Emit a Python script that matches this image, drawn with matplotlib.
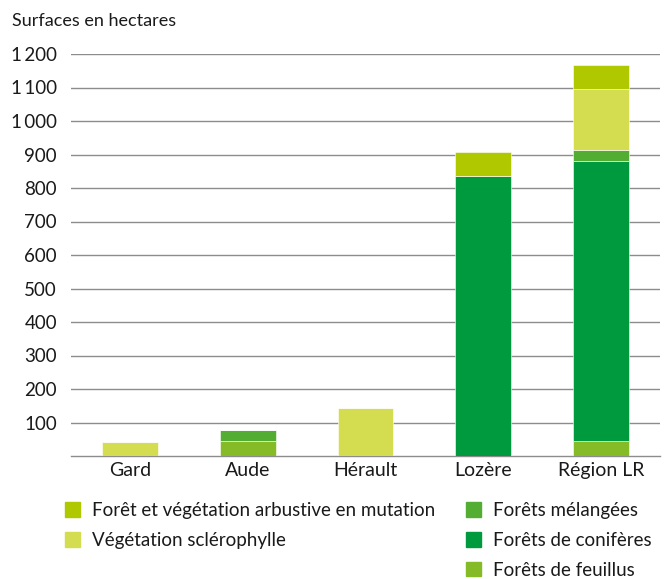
import matplotlib.pyplot as plt
from matplotlib.patches import Patch

# surfaces in hectares, by department, one list per land-cover type
departements = ["Gard", "Aude", "Hérault", "Lozère", "Région LR"]
feuillus = [0, 45, 0, 0, 45]
coniferes = [0, 0, 0, 836, 836]
melangees = [0, 32, 0, 0, 32]
sclerophylle = [41, 0, 143, 0, 184]
mutation = [0, 0, 0, 70, 70]

y_ticks = [100, 200, 300, 400, 500, 600, 700, 800, 900, 1000, 1100, 1200]
y_labels = ["100", "200", "300", "400", "500", "600", "700", "800", "900",
            "1\u2009000", "1\u2009100", "1\u2009200"]

colors = {
    "feuillus": "#84bb26",
    "coniferes": "#009a3e",
    "melangees": "#52ad32",
    "sclerophylle": "#d4dc50",
    "mutation": "#b0c800",
}

plt.rcParams["font.family"] = ["Lato", "DejaVu Sans"]
plt.rcParams["font.size"] = 13

fig = plt.figure(figsize=(6.69, 5.79), dpi=100)
W, H = 669, 579
ax = fig.add_axes([71 / W, 1 - 456 / H, (660 - 71) / W, (456 - 54) / H])

x = range(len(departements))
width = 0.475
series = [
    (feuillus, "feuillus"),
    (coniferes, "coniferes"),
    (melangees, "melangees"),
    (sclerophylle, "sclerophylle"),
    (mutation, "mutation"),
]
bottom = [0] * len(departements)
for values, key in series:
    ax.bar(x, values, width, bottom=bottom, color=colors[key], zorder=3,
           edgecolor="white", linewidth=0.4)
    bottom = [b + v for b, v in zip(bottom, values)]

ax.set_xlim(-0.5, len(departements) - 0.5)
ax.set_ylim(0, 1200)
ax.set_yticks(y_ticks)
ax.set_yticklabels(y_labels, fontsize=13.5)
ax.set_xticks(list(x))
ax.set_xticklabels(departements, fontsize=14)
ax.tick_params(length=0, pad=10, colors="#1a1a1a")
ax.tick_params(axis="x", pad=4)
ax.yaxis.grid(True, color="#8c8c8c", linewidth=1.0, zorder=0)
for side in ["top", "right", "left"]:
    ax.spines[side].set_visible(False)
ax.spines["bottom"].set_color("#8c8c8c")
ax.spines["bottom"].set_linewidth(1.0)

fig.text(12 / W, 1 - 21 / H, "Surfaces en hectares", ha="left", va="center",
         color="#1a1a1a")

legend_kw = dict(frameon=False, fontsize=13.5, handlelength=0.82, handleheight=0.82,
                 handletextpad=0.6, labelspacing=0.68, borderaxespad=0,
                 borderpad=0, loc="upper left")
left_handles = [Patch(color=colors["mutation"], label="Forêt et végétation arbustive en mutation"),
                Patch(color=colors["sclerophylle"], label="Végétation sclérophylle")]
right_handles = [Patch(color=colors["melangees"], label="Forêts mélangées"),
                 Patch(color=colors["coniferes"], label="Forêts de conifères"),
                 Patch(color=colors["feuillus"], label="Forêts de feuillus")]
leg1 = fig.legend(handles=left_handles, bbox_to_anchor=(65 / W, 1 - 502 / H), **legend_kw)
leg2 = fig.legend(handles=right_handles, bbox_to_anchor=(466 / W, 1 - 502 / H), **legend_kw)
for leg in (leg1, leg2):
    for t in leg.get_texts():
        t.set_color("#1a1a1a")

fig.savefig("out.png", dpi=100)
